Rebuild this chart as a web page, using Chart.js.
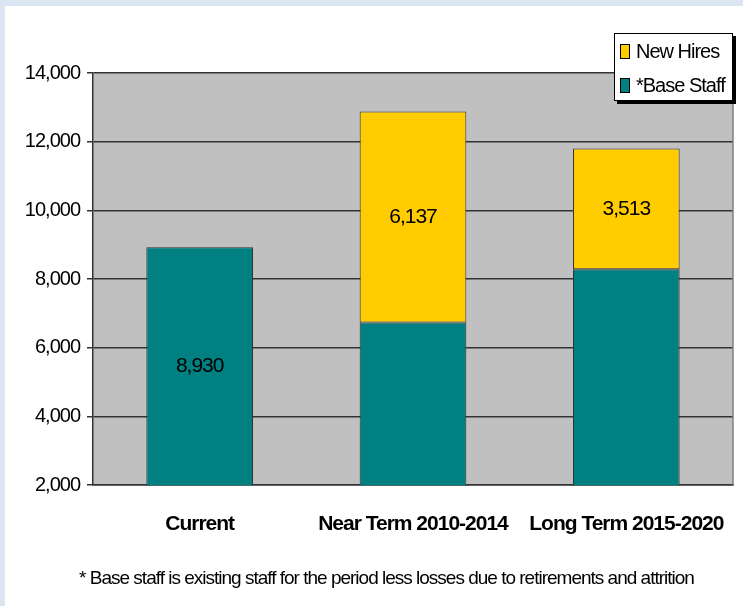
<!DOCTYPE html>
<html>
<head>
<meta charset="UTF-8" />
<title>Staffing</title>
<script src="https://cdn.jsdelivr.net/npm/chart.js@4.4.2/dist/chart.umd.min.js"></script>
<style>
    html, body { margin: 0; padding: 0; background: #ffffff; }
    canvas { display: block; }
</style>
</head>
<body>
<canvas id="staffChart" width="743" height="606"></canvas>
<script>
    // --- data ---
    var categories = ["Current", "Near Term 2010-2014", "Long Term 2015-2020"];
    var baseStaff = [8930, 6740, 8290];
    var newHires = [null, 6137, 3513];
    var baseStaffLabelShown = [true, false, false];
    var newHiresLabelShown = [false, true, true];
    var yTicks = [2000, 4000, 6000, 8000, 10000, 12000, 14000];
    var footnote = "* Base staff is existing staff for the period less losses due to retirements and attrition";

    var fontFamily = '"Liberation Sans", Arial, sans-serif';
    Chart.defaults.font.family = fontFamily;
    Chart.defaults.color = "#000";

    function fmt(v) {
        return Number(v).toLocaleString("en-US");
    }

    // blue frame, white page, grey plot area; tight text tracking like the original
    var framePlugin = {
        id: "frame",
        afterLayout: function (chart) {
            // footnote is centred under the plot, not the whole page
            if (chart.titleBlock) {
                chart.titleBlock.left = chart.chartArea.left - 53;
                chart.titleBlock.right = chart.chartArea.right;
            }
        },
        beforeDraw: function (chart) {
            var ctx = chart.ctx, a = chart.chartArea;
            ctx.save();
            ctx.fillStyle = "#dce6f2";
            ctx.fillRect(0, 0, chart.width, chart.height);
            ctx.fillStyle = "#ffffff";
            ctx.fillRect(5, 6, chart.width - 5, chart.height - 6);
            ctx.fillStyle = "#c0c0c0";
            ctx.fillRect(a.left, a.top, a.right - a.left, a.bottom - a.top);
            ctx.restore();
            ctx.letterSpacing = "-1px";
        },
        afterDraw: function (chart) {
            var ctx = chart.ctx, a = chart.chartArea;
            ctx.save();
            ctx.strokeStyle = "#808080";
            ctx.lineWidth = 1.5;
            ctx.beginPath();
            ctx.moveTo(a.right, a.top);
            ctx.lineTo(a.right, a.bottom);
            ctx.stroke();
            ctx.restore();
        }
    };

    // value labels centred in the visible part of each segment
    var valueLabels = {
        id: "valueLabels",
        afterDatasetsDraw: function (chart) {
            var ctx = chart.ctx, a = chart.chartArea;
            ctx.save();
            ctx.font = "21px " + fontFamily;
            ctx.fillStyle = "#000";
            ctx.textAlign = "center";
            ctx.textBaseline = "middle";
            chart.data.datasets.forEach(function (ds, di) {
                var meta = chart.getDatasetMeta(di);
                meta.data.forEach(function (bar, i) {
                    if (!ds.labelShown[i] || ds.data[i] == null) return;
                    var p = bar.getProps(["x", "y", "base"], true);
                    var top = Math.max(Math.min(p.y, p.base), a.top);
                    var bottom = Math.min(Math.max(p.y, p.base), a.bottom);
                    ctx.fillText(fmt(ds.data[i]), p.x, (top + bottom) / 2);
                });
            });
            ctx.restore();
        }
    };

    // boxed legend with drop shadow, top series first
    var boxLegend = {
        id: "boxLegend",
        afterDraw: function (chart) {
            var ctx = chart.ctx, a = chart.chartArea;
            var w = 119, h = 68;
            var x = a.right - w, y = 33;
            ctx.save();
            ctx.fillStyle = "#000";
            ctx.fillRect(x + 3, y + 3, w, h);
            ctx.fillStyle = "#fff";
            ctx.fillRect(x, y, w, h);
            ctx.strokeStyle = "#000";
            ctx.lineWidth = 1;
            ctx.strokeRect(x + 0.5, y + 0.5, w - 1, h - 1);
            ctx.font = "20px " + fontFamily;
            ctx.textAlign = "left";
            ctx.textBaseline = "alphabetic";
            var items = chart.data.datasets.slice().reverse();
            items.forEach(function (ds, i) {
                var iy = y + 11 + i * 34;
                ctx.fillStyle = ds.backgroundColor;
                ctx.fillRect(x + 6, iy, 10, 15);
                ctx.strokeStyle = "#000";
                ctx.strokeRect(x + 6.5, iy + 0.5, 9, 14);
                ctx.fillStyle = "#000";
                ctx.fillText(ds.label, x + 22, iy + 14);
            });
            ctx.restore();
        }
    };

    var ctx = document.getElementById("staffChart").getContext("2d");
    var staffChart = new Chart(ctx, {
        type: "bar",
        data: {
            labels: categories,
            datasets: [
                {
                    label: "*Base Staff",
                    data: baseStaff,
                    labelShown: baseStaffLabelShown,
                    backgroundColor: "#008080",
                    borderColor: "#333333",
                    borderWidth: 1,
                    borderSkipped: false
                },
                {
                    label: "New Hires",
                    data: newHires,
                    labelShown: newHiresLabelShown,
                    backgroundColor: "#ffcc00",
                    borderColor: "#333333",
                    borderWidth: 1,
                    borderSkipped: false
                }
            ]
        },
        options: {
            responsive: false,
            animation: false,
            barPercentage: 0.5,
            categoryPercentage: 1.0,
            layout: {
                padding: { top: 73, right: 10, bottom: 0, left: 0 }
            },
            plugins: {
                legend: { display: false },
                tooltip: { enabled: false },
                title: {
                    display: true,
                    position: "bottom",
                    text: footnote,
                    color: "#000",
                    font: { size: 19, weight: "normal" },
                    padding: { top: 0, bottom: 16 }
                }
            },
            scales: {
                x: {
                    stacked: true,
                    grid: { display: false, drawTicks: false },
                    border: { display: true, color: "#333333", width: 1.5 },
                    ticks: {
                        color: "#000",
                        padding: 26,
                        maxRotation: 0,
                        minRotation: 0,
                        autoSkip: false,
                        font: { size: 21, weight: "bold" }
                    },
                    afterFit: function (scale) {
                        scale.height = 82;
                        scale.paddingLeft = 0;
                        scale.paddingRight = 0;
                    }
                },
                y: {
                    stacked: true,
                    min: yTicks[0],
                    max: yTicks[yTicks.length - 1],
                    grid: { color: "#333333", lineWidth: 1.5, tickLength: 6 },
                    border: { display: true, color: "#333333", width: 1.5 },
                    ticks: {
                        stepSize: yTicks[1] - yTicks[0],
                        color: "#000",
                        padding: 7,
                        font: { size: 20 },
                        callback: function (v) {
                            return fmt(v);
                        }
                    },
                    afterFit: function (scale) {
                        scale.width = 93;
                    }
                }
            }
        },
        plugins: [framePlugin, valueLabels, boxLegend]
    });
</script>
</body>
</html>
